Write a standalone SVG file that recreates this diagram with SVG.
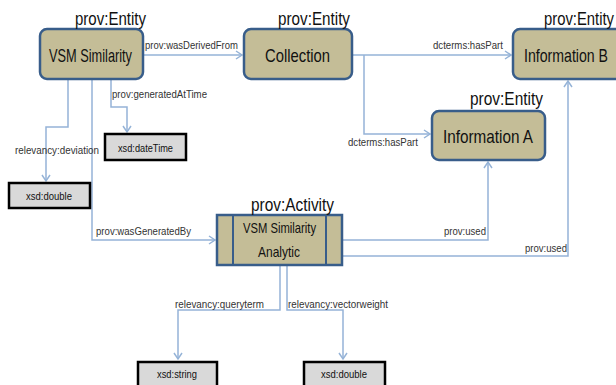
<svg xmlns="http://www.w3.org/2000/svg" width="616" height="385" viewBox="0 0 616 385">
<style>
.ent{fill:#C4BD97;stroke:#385D8A;stroke-width:2.5}
.lit{fill:#D9D9D9;stroke:#000;stroke-width:2.5}
.c{fill:none;stroke:#95B3D7;stroke-width:1.5}
text{font-family:"Liberation Sans",Arial,sans-serif;fill:#111}
.big{font-size:19px}
.nm{font-size:18.5px}
.act{font-size:15px}
.sm{font-size:11px;fill:#333}
.xs{font-size:11px}
</style>
<defs>
<marker id="a" markerUnits="userSpaceOnUse" markerWidth="10" markerHeight="10" viewBox="-8 -5 10 10" refX="0" refY="0" orient="auto">
<polyline points="-6,-4 0,0 -6,4" fill="none" stroke="#95B3D7" stroke-width="1.5"/>
</marker>
</defs>
<rect width="616" height="385" fill="#fff"/>
<g id="connectors">
<path class="c" d="M143,55 H242" marker-end="url(#a)"/>
<path class="c" d="M352,55 H511" marker-end="url(#a)"/>
<path class="c" d="M364,55 V134 H430" marker-end="url(#a)"/>
<path class="c" d="M68,79 V127 H46 V181" marker-end="url(#a)"/>
<path class="c" d="M111,79 V107 H127 V132" marker-end="url(#a)"/>
<path class="c" d="M92,79 V240 H215" marker-end="url(#a)"/>
<path class="c" d="M342,240 H488 V162" marker-end="url(#a)"/>
<path class="c" d="M342,256 H568 V81" marker-end="url(#a)"/>
<path class="c" d="M280,265 V310 H178 V359" marker-end="url(#a)"/>
<path class="c" d="M287,265 V310 H343 V359" marker-end="url(#a)"/>
<text class="sm" x="145" y="49" textLength="93" lengthAdjust="spacingAndGlyphs">prov:wasDerivedFrom</text>
<text class="sm" x="433" y="49" textLength="70" lengthAdjust="spacingAndGlyphs">dcterms:hasPart</text>
<text class="sm" x="348" y="146" textLength="70" lengthAdjust="spacingAndGlyphs">dcterms:hasPart</text>
<text class="sm" x="112" y="98" textLength="95" lengthAdjust="spacingAndGlyphs">prov:generatedAtTime</text>
<text class="sm" x="15" y="154" textLength="84" lengthAdjust="spacingAndGlyphs">relevancy:deviation</text>
<text class="sm" x="96" y="235" textLength="95" lengthAdjust="spacingAndGlyphs">prov:wasGeneratedBy</text>
<text class="sm" x="444" y="235" textLength="42" lengthAdjust="spacingAndGlyphs">prov:used</text>
<text class="sm" x="525" y="252" textLength="42" lengthAdjust="spacingAndGlyphs">prov:used</text>
<text class="sm" x="175" y="308" textLength="89" lengthAdjust="spacingAndGlyphs">relevancy:queryterm</text>
<text class="sm" x="288" y="308" textLength="100" lengthAdjust="spacingAndGlyphs">relevancy:vectorweight</text>
</g>
<g id="vsm-similarity">
<rect class="ent" x="40" y="29" width="103" height="50" rx="7"/>
<text class="big" x="75" y="25" textLength="71" lengthAdjust="spacingAndGlyphs">prov:Entity</text>
<text class="nm" x="49" y="62" textLength="83" lengthAdjust="spacingAndGlyphs">VSM Similarity</text>
</g>
<g id="collection">
<rect class="ent" x="244" y="29" width="108" height="50" rx="7"/>
<text class="big" x="278" y="25" textLength="72" lengthAdjust="spacingAndGlyphs">prov:Entity</text>
<text class="nm" x="265" y="62" textLength="65" lengthAdjust="spacingAndGlyphs">Collection</text>
</g>
<g id="information-b">
<rect class="ent" x="513" y="29" width="112" height="50" rx="7"/>
<text class="big" x="544" y="25" textLength="70" lengthAdjust="spacingAndGlyphs">prov:Entity</text>
<text class="nm" x="524" y="62" textLength="84" lengthAdjust="spacingAndGlyphs">Information B</text>
</g>
<g id="information-a">
<rect class="ent" x="432" y="111" width="113" height="49" rx="7"/>
<text class="big" x="470" y="105" textLength="73" lengthAdjust="spacingAndGlyphs">prov:Entity</text>
<text class="nm" x="443" y="143" textLength="90" lengthAdjust="spacingAndGlyphs">Information A</text>
</g>
<g id="vsm-similarity-analytic">
<rect class="ent" x="217" y="215" width="125" height="50"/>
<line x1="233" y1="215" x2="233" y2="265" stroke="#385D8A" stroke-width="2"/>
<line x1="326" y1="215" x2="326" y2="265" stroke="#385D8A" stroke-width="2"/>
<text class="big" x="251" y="211" textLength="83" lengthAdjust="spacingAndGlyphs">prov:Activity</text>
<text class="act" x="243" y="233" textLength="73" lengthAdjust="spacingAndGlyphs">VSM Similarity</text>
<text class="act" x="258" y="257" textLength="42" lengthAdjust="spacingAndGlyphs">Analytic</text>
</g>
<g id="xsd-datetime">
<rect class="lit" x="105" y="134" width="81" height="26"/>
<text class="xs" x="118" y="152" textLength="55" lengthAdjust="spacingAndGlyphs">xsd:dateTime</text>
</g>
<g id="xsd-double-1">
<rect class="lit" x="9" y="183" width="81" height="25"/>
<text class="xs" x="26" y="200" textLength="46" lengthAdjust="spacingAndGlyphs">xsd:double</text>
</g>
<g id="xsd-string">
<rect class="lit" x="138" y="362" width="79" height="26"/>
<text class="xs" x="157" y="378" textLength="40" lengthAdjust="spacingAndGlyphs">xsd:string</text>
</g>
<g id="xsd-double-2">
<rect class="lit" x="304" y="362" width="81" height="26"/>
<text class="xs" x="321" y="378" textLength="46" lengthAdjust="spacingAndGlyphs">xsd:double</text>
</g>
</svg>
